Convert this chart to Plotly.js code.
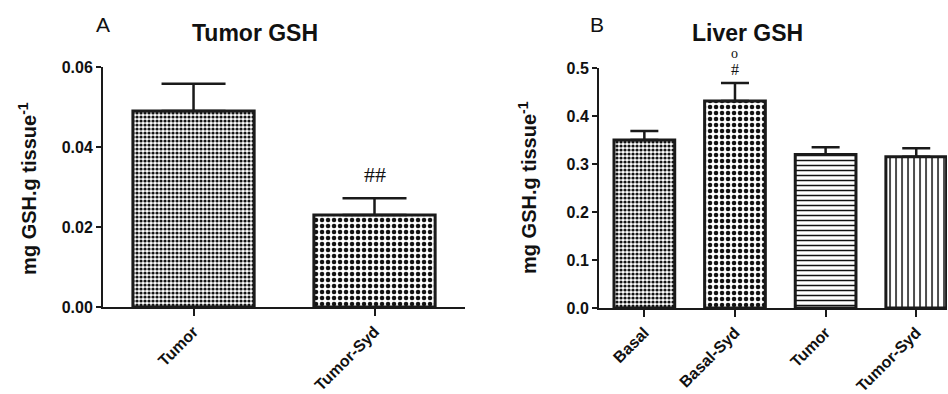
<!DOCTYPE html>
<html>
<head>
<meta charset="utf-8">
<script src="https://cdn.plot.ly/plotly-3.0.1.min.js"></script>
<style>html,body{margin:0;padding:0;background:#fff;}#chart{width:948px;height:394px;}</style>
</head>
<body>
<div id="chart"></div>
<script>
// Panel A: Tumor GSH
const catsA = ['Tumor', 'Tumor-Syd'];
const valsA = [0.049, 0.023];
const errA = [0.0068, 0.0042];
const tickValsA = [0, 0.02, 0.04, 0.06];

// Panel B: Liver GSH
const catsB = ['Basal', 'Basal-Syd', 'Tumor', 'Tumor-Syd'];
const valsB = [0.35, 0.431, 0.32, 0.315];
const errB = [0.019, 0.038, 0.015, 0.018];
const tickValsB = [0, 0.1, 0.2, 0.3, 0.4, 0.5];

const INK = '#1a1a1a';
const FONT = 'Liberation Sans, Arial, sans-serif';
const SERIF = 'Liberation Serif, Times New Roman, serif';

const traceA = {
  type: 'bar', x: catsA, y: valsA, xaxis: 'x', yaxis: 'y',
  marker: {
    color: '#ffffff',
    line: {color: INK, width: 3},
    pattern: {shape: ['.', '.'], size: [4, 6], solidity: [0.5, 0.45], fgcolor: '#111', bgcolor: '#ffffff', fillmode: 'replace'}
  },
  error_y: {type: 'data', symmetric: false, array: errA, arrayminus: errA.map(() => 0), color: INK, thickness: 2.5, width: 32},
  hoverinfo: 'skip', showlegend: false
};

const traceB = {
  type: 'bar', x: catsB, y: valsB, xaxis: 'x2', yaxis: 'y2',
  marker: {
    color: '#ffffff',
    line: {color: INK, width: 3},
    pattern: {shape: ['.', '.', '-', '|'], size: [4, 6, 5, 6], solidity: [0.5, 0.45, 0.3, 0.25], fgcolor: '#111', bgcolor: '#ffffff', fillmode: 'replace'}
  },
  error_y: {type: 'data', symmetric: false, array: errB, arrayminus: errB.map(() => 0), color: INK, thickness: 2.5, width: 14},
  hoverinfo: 'skip', showlegend: false
};

const xCommon = {
  type: 'category', showline: true, linecolor: INK, linewidth: 2,
  ticks: 'outside', ticklen: 7, tickwidth: 2, tickcolor: INK,
  tickangle: -45, tickfont: {family: FONT, size: 16, color: '#111', weight: 'bold'},
  showgrid: false, zeroline: false, fixedrange: true
};
const yCommon = {
  showline: true, linecolor: INK, linewidth: 2,
  ticks: 'outside', ticklen: 5, tickwidth: 2, tickcolor: INK,
  tickfont: {family: FONT, size: 16, color: '#111', weight: 'bold'},
  showgrid: false, zeroline: false, fixedrange: true
};

const layout = {
  width: 948, height: 394,
  margin: {l: 0, r: 0, t: 0, b: 0},
  paper_bgcolor: '#ffffff', plot_bgcolor: '#ffffff',
  bargap: 0.33,
  xaxis: Object.assign({}, xCommon, {domain: [0.1087, 0.4905], range: [-0.5, 1.5], anchor: 'y'}),
  yaxis: Object.assign({}, yCommon, {domain: [0.2208, 0.8299], range: [0, 0.06], tickvals: tickValsA, tickformat: '.2f', anchor: 'x'}),
  xaxis2: Object.assign({}, xCommon, {domain: [0.6319, 0.999], range: [-0.5, 3.34], anchor: 'y2'}),
  yaxis2: Object.assign({}, yCommon, {domain: [0.2183, 0.8274], range: [0, 0.5], tickvals: tickValsB, tickformat: '.1f', anchor: 'x2'}),
  annotations: [
    {text: 'Tumor GSH', xref: 'paper', yref: 'paper', x: 0.269, y: 0.916, xanchor: 'center', yanchor: 'middle', showarrow: false, font: {family: FONT, size: 23, color: '#111', weight: 'bold'}},
    {text: 'Liver GSH', xref: 'paper', yref: 'paper', x: 0.788, y: 0.916, xanchor: 'center', yanchor: 'middle', showarrow: false, font: {family: FONT, size: 23, color: '#111', weight: 'bold'}},
    {text: 'A', xref: 'paper', yref: 'paper', x: 0.1087, y: 0.937, xanchor: 'center', yanchor: 'middle', showarrow: false, font: {family: FONT, size: 21, color: '#111'}},
    {text: 'B', xref: 'paper', yref: 'paper', x: 0.63, y: 0.937, xanchor: 'center', yanchor: 'middle', showarrow: false, font: {family: FONT, size: 21, color: '#111'}},
    {text: 'mg GSH.g tissue<sup>-1</sup>', xref: 'paper', yref: 'paper', x: 0.0295, y: 0.523, xanchor: 'center', yanchor: 'middle', textangle: -90, showarrow: false, font: {family: FONT, size: 20, color: '#111', weight: 'bold'}},
    {text: 'mg GSH.g tissue<sup>-1</sup>', xref: 'paper', yref: 'paper', x: 0.557, y: 0.523, xanchor: 'center', yanchor: 'middle', textangle: -90, showarrow: false, font: {family: FONT, size: 20, color: '#111', weight: 'bold'}},
    {text: '##', xref: 'x', yref: 'y', x: catsA[1], y: valsA[1] + errA[1], xanchor: 'center', yanchor: 'bottom', yshift: 9, showarrow: false, font: {family: SERIF, size: 22, color: '#111'}},
    {text: '#', xref: 'x2', yref: 'y2', x: catsB[1], y: valsB[1] + errB[1], xanchor: 'center', yanchor: 'bottom', yshift: 3, showarrow: false, font: {family: SERIF, size: 16, color: '#111'}},
    {text: 'o', xref: 'x2', yref: 'y2', x: catsB[1], y: valsB[1] + errB[1], xanchor: 'center', yanchor: 'bottom', yshift: 20, showarrow: false, font: {family: SERIF, size: 14, color: '#111'}}
  ]
};

Plotly.newPlot('chart', [traceA, traceB], layout, {staticPlot: true, displayModeBar: false});
</script>
</body>
</html>
